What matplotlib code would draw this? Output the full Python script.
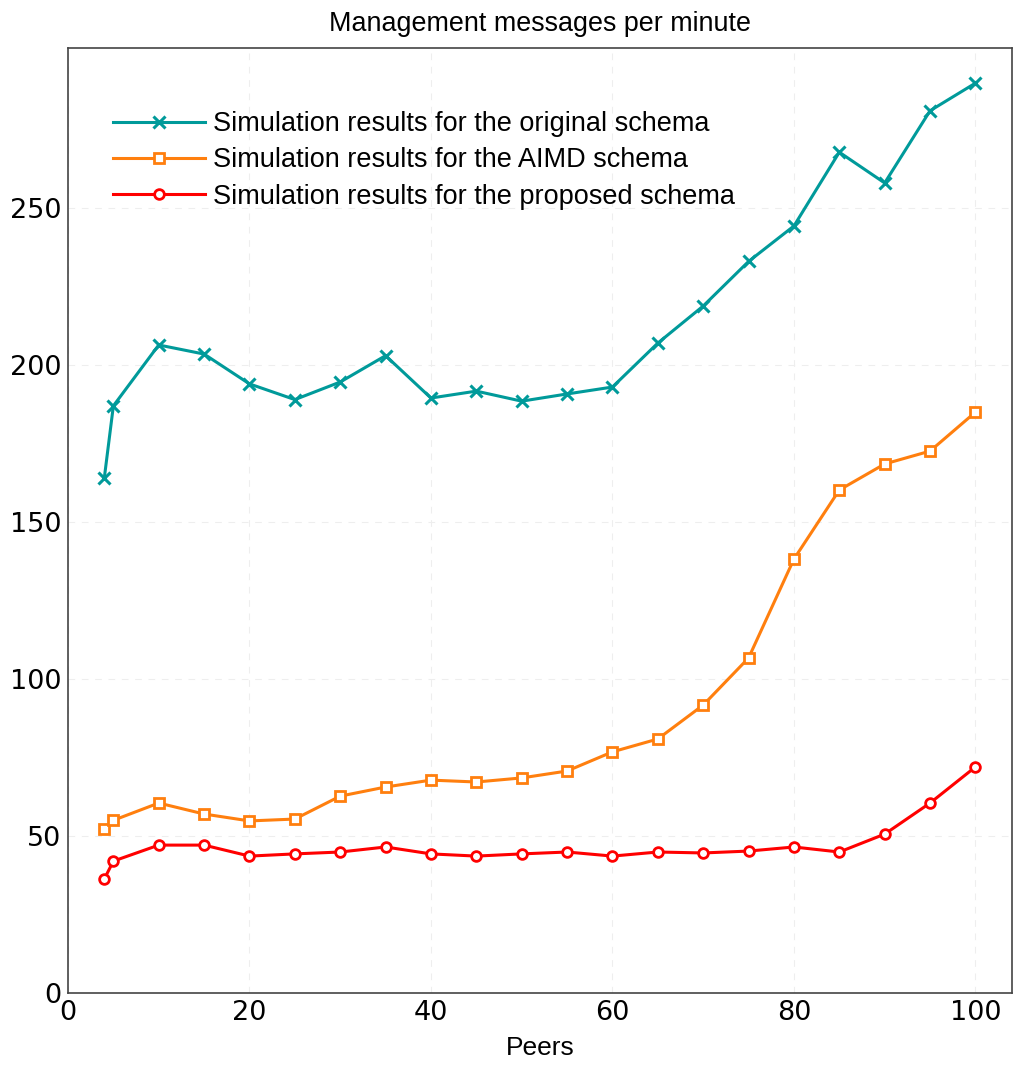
import matplotlib
matplotlib.use('Agg')
import matplotlib.pyplot as plt

peers = [4, 5, 10, 15, 20, 25, 30, 35, 40, 45, 50, 55, 60, 65, 70, 75, 80, 85, 90, 95, 100]
original = [164, 187, 206.4, 203.5, 194, 189, 194.6, 203, 189.5, 191.7, 188.5, 190.8, 193,
            207, 218.8, 233, 244.3, 267.8, 258, 281, 289.8]
aimd = [52.2, 55, 60.5, 57, 54.8, 55.4, 62.7, 65.6, 67.8, 67.2, 68.5, 70.7, 76.8,
        80.9, 91.7, 106.7, 138.2, 160.2, 168.5, 172.6, 185]
proposed = [36.3, 42, 47.1, 47.1, 43.6, 44.3, 44.9, 46.5, 44.3, 43.6, 44.3, 44.9, 43.6,
            44.9, 44.6, 45.2, 46.5, 44.9, 50.6, 60.5, 72]

label_font = 'Liberation Sans'

fig = plt.figure(figsize=(10.24, 10.66), dpi=100)
ax = fig.add_axes([0.0664, 0.0685, 0.9216, 0.8865])

ax.plot(peers, original, color='#009a9a', lw=2.2, marker='x', ms=8, mew=2.2,
        label='Simulation results for the original schema')
ax.plot(peers, aimd, color='#ff7f0e', lw=2.2, marker='s', ms=7, mew=2,
        mfc='white', label='Simulation results for the AIMD schema')
ax.plot(peers, proposed, color='#ff0000', lw=2.2, marker='o', ms=7, mew=2,
        mfc='white', label='Simulation results for the proposed schema')

ax.set_xlim(0, 104)
ax.set_ylim(0, 301)
ax.set_xticks([0, 20, 40, 60, 80, 100])
ax.set_yticks([0, 50, 100, 150, 200, 250])
ax.tick_params(length=0, labelsize=19.5, pad=5)
ax.grid(True, ls=(0, (6, 6)), color='#eeeeee', lw=0.8)
for s in ax.spines.values():
    s.set_color('#444444')
    s.set_linewidth(1.2)

ax.set_title('Management messages per minute', fontsize=19.4, family=label_font, pad=12)
ax.set_xlabel('Peers', fontsize=19, family=label_font, labelpad=7)

ax.legend(loc='upper left', bbox_to_anchor=(0.022, 0.959), frameon=False,
          prop={'family': label_font, 'size': 19.5}, handlelength=3.4,
          handletextpad=0.3, labelspacing=0.38)

fig.savefig('out.png', dpi=100)
